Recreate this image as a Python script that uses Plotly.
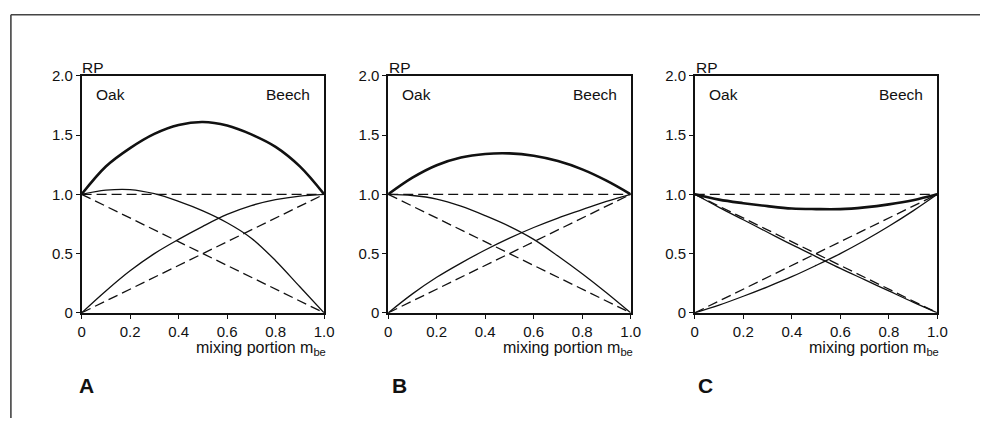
import plotly.graph_objects as go

# ---- data ----
m_be = [0.0, 0.1, 0.2, 0.3, 0.4, 0.5, 0.6, 0.7, 0.8, 0.9, 1.0]

oak_A = [1.0, 1.035, 1.04, 1.005, 0.94, 0.86, 0.76, 0.63, 0.44, 0.22, 0.0]
beech_A = [0.0, 0.185, 0.355, 0.50, 0.62, 0.73, 0.83, 0.905, 0.955, 0.985, 1.0]
total_A = [1.0, 1.235, 1.39, 1.51, 1.585, 1.61, 1.58, 1.505, 1.40, 1.235, 1.0]

oak_B = [1.0, 0.99, 0.96, 0.90, 0.82, 0.73, 0.62, 0.48, 0.33, 0.17, 0.0]
beech_B = [0.0, 0.16, 0.30, 0.42, 0.53, 0.63, 0.72, 0.80, 0.87, 0.94, 1.0]
total_B = [1.0, 1.14, 1.245, 1.31, 1.34, 1.345, 1.325, 1.28, 1.21, 1.115, 1.0]

oak_C = [1.0, 0.89, 0.785, 0.68, 0.575, 0.475, 0.375, 0.28, 0.185, 0.09, 0.0]
beech_C = [0.0, 0.065, 0.14, 0.22, 0.305, 0.40, 0.50, 0.61, 0.73, 0.86, 1.0]
total_C = [1.0, 0.955, 0.925, 0.90, 0.88, 0.875, 0.875, 0.89, 0.915, 0.95, 1.0]

# expected (no-interaction) reference lines
ref_x = [0.0, 1.0]
ref_oak = [1.0, 0.0]
ref_beech = [0.0, 1.0]
ref_total = [1.0, 1.0]

panels = ["A", "B", "C"]
oak = [oak_A, oak_B, oak_C]
beech = [beech_A, beech_B, beech_C]
total = [total_A, total_B, total_C]

x_ticks = [0, 0.2, 0.4, 0.6, 0.8, 1.0]
x_ticklabels = ["0", "0.2", "0.4", "0.6", "0.8", "1.0"]
y_ticks = [0, 0.5, 1.0, 1.5, 2.0]
y_ticklabels = ["0", "0.5", "1.0", "1.5", "2.0"]

# ---- layout geometry (pixels) ----
W, H = 990, 426
plot_left = [78.7, 389.7, 700.7]
plot_w = 246.0
plot_top, plot_bottom = 69.5, 316.5

INK = "#111111"
FONT = "Liberation Sans, Arial, Helvetica, sans-serif"
FS = 15.5
TFS = 15

fig = go.Figure()
layout = dict(
    width=W, height=H,
    margin=dict(l=0, r=0, t=0, b=0),
    paper_bgcolor="white", plot_bgcolor="white",
    showlegend=False,
    font=dict(family=FONT, size=FS, color=INK),
)

annotations = []
for i, p in enumerate(panels):
    xa = "x" if i == 0 else f"x{i+1}"
    ya = "y" if i == 0 else f"y{i+1}"
    xkey = "xaxis" if i == 0 else f"xaxis{i+1}"
    ykey = "yaxis" if i == 0 else f"yaxis{i+1}"

    # dashed reference lines
    for ry in (ref_total, ref_oak, ref_beech):
        fig.add_trace(go.Scatter(x=ref_x, y=ry, mode="lines", xaxis=xa, yaxis=ya,
                                 line=dict(color=INK, width=1.3, dash="10px,5px"),
                                 hoverinfo="skip"))
    # thin curves
    for cy in (oak[i], beech[i]):
        fig.add_trace(go.Scatter(x=m_be, y=cy, mode="lines", xaxis=xa, yaxis=ya,
                                 line=dict(color=INK, width=1.3, shape="spline", smoothing=1.0),
                                 hoverinfo="skip"))
    # thick total curve
    fig.add_trace(go.Scatter(x=m_be, y=total[i], mode="lines", xaxis=xa, yaxis=ya,
                             line=dict(color=INK, width=2.6, shape="spline", smoothing=1.0),
                             hoverinfo="skip"))

    x0 = plot_left[i] / W
    x1 = (plot_left[i] + plot_w) / W
    layout[xkey] = dict(
        domain=[x0, x1], anchor=ya, range=[0, 1],
        tickmode="array", tickvals=x_ticks, ticktext=x_ticklabels,
        ticks="outside", ticklen=4, tickwidth=1, tickcolor=INK,
        showline=True, linecolor=INK, linewidth=1.5, mirror=True,
        showgrid=False, zeroline=False,
        tickfont=dict(family=FONT, size=TFS, color=INK),
        fixedrange=True,
    )
    layout[ykey] = dict(
        domain=[(H - plot_bottom) / H, (H - plot_top) / H], anchor=xa, range=[0, 2],
        tickmode="array", tickvals=y_ticks, ticktext=y_ticklabels,
        ticks="outside", ticklen=4, tickwidth=1, tickcolor=INK,
        showline=True, linecolor=INK, linewidth=1.5, mirror=True,
        showgrid=False, zeroline=False,
        tickfont=dict(family=FONT, size=TFS, color=INK),
        fixedrange=True,
    )

    # RP label
    annotations.append(dict(text="RP", xref=f"{xa} domain", yref="paper",
                            x=-0.005, y=(H - 50) / H, xanchor="left", yanchor="top",
                            showarrow=False, font=dict(family=FONT, size=FS, color=INK)))
    # Oak / Beech
    annotations.append(dict(text="Oak", xref=xa, yref=ya, x=0.05, y=1.845,
                            xanchor="left", yanchor="middle", showarrow=False,
                            font=dict(family=FONT, size=FS, color=INK)))
    annotations.append(dict(text="Beech", xref=xa, yref=ya, x=0.95, y=1.845,
                            xanchor="right", yanchor="middle", showarrow=False,
                            font=dict(family=FONT, size=FS, color=INK)))
    # x-axis title
    annotations.append(dict(text="mixing portion m<sub>be</sub>", xref=f"{xa} domain",
                            yref="paper", x=1.012, y=(H - 343) / H,
                            xanchor="right", yanchor="top", showarrow=False, borderpad=0,
                            font=dict(family=FONT, size=16, color=INK)))
    # panel letter
    letter_cx = [83.5, 401.5, 711.5][i]
    annotations.append(dict(text=f"<b>{p}</b>", xref="paper", yref="paper",
                            x=letter_cx / W, y=(H - 392) / H,
                            xanchor="center", yanchor="middle", showarrow=False,
                            font=dict(family=FONT, size=21, color=INK)))

layout["annotations"] = annotations
layout["shapes"] = [
    dict(type="line", xref="paper", yref="paper", x0=7 / W, x1=1, y0=(H - 6) / H, y1=(H - 6) / H,
         line=dict(color="#444444", width=1.6)),
    dict(type="line", xref="paper", yref="paper", x0=7 / W, x1=7 / W, y0=0, y1=(H - 6) / H,
         line=dict(color="#444444", width=1.6)),
]
fig.update_layout(**layout)
fig.write_html("out.html",
               post_script="document.body.style.margin='0';document.body.style.overflow='hidden';")
